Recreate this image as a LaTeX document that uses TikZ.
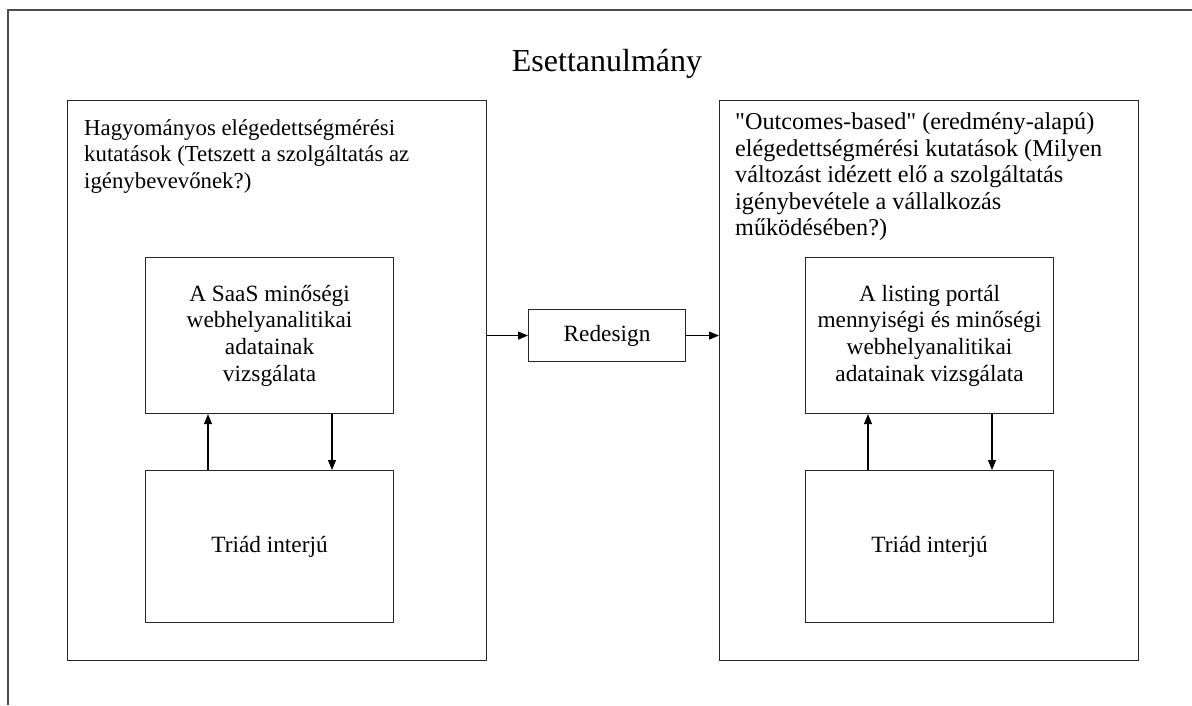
\documentclass[tikz,border=0pt]{standalone}
\usepackage{fontspec}
\setmainfont{Liberation Serif}[Ligatures=TeXOff]
\usetikzlibrary{arrows.meta}
\begin{document}
\begin{tikzpicture}[x=1pt,y=-1pt,
  box/.style={draw=black!85, line width=1.1pt, rectangle, inner sep=0pt},
  frame/.style={draw=black!70, line width=1.5pt},
  txt/.style={font=\fontsize{23.3}{26.7}\selectfont, align=center, inner sep=0pt},
  ltxt/.style={align=left, inner sep=0pt, anchor=north west},
  arr/.style={draw=black, line width=1.1pt, -{Triangle[length=10pt,width=8pt]}}
]
\useasboundingbox (0,0) rectangle (1192,705);
% outer container (cut off)
\coordinate (ftr) at (1192,10);
\coordinate (ftl) at (8,10);
\coordinate (fbl) at (8,705);
\draw[frame] (ftr) -- (ftl) -- (fbl);
\node[font=\fontsize{32}{36}\selectfont, inner sep=0pt] (title) at (607,64) {Esettanulmány};

% left big box
\node[box, minimum width=419pt, minimum height=560pt, anchor=north west] (L) at (67,100) {};
\node[ltxt, font=\fontsize{22.8}{26.6}\selectfont] (Lt) at (84,119) {Hagyományos elégedettségmérési\\kutatások (Tetszett a szolgáltatás az\\igénybevevőnek?)};
\node[box, minimum width=248pt, minimum height=156pt, anchor=north west] (L1) at (145,257) {};
\node[txt] (L1t) at (L1.center) {A SaaS minőségi\\webhelyanalitikai\\adatainak\\vizsgálata};
\node[box, minimum width=248pt, minimum height=152pt, anchor=north west] (L2) at (145,470) {};
\node[txt] (L2t) at (L2.center) {Triád interjú};

% right big box
\node[box, minimum width=419pt, minimum height=560pt, anchor=north west] (R) at (719,100) {};
\node[ltxt, font=\fontsize{24.2}{26.6}\selectfont] (Rt) at (735,112.5) {"Outcomes-based" (eredmény-alapú)\\elégedettségmérési kutatások (Milyen\\változást idézett elő a szolgáltatás\\igénybevétele a vállalkozás\\működésében?)};
\node[box, minimum width=248pt, minimum height=156pt, anchor=north west] (R1) at (805,257) {};
\node[txt] (R1t) at (R1.center) {A listing portál\\mennyiségi és minőségi\\webhelyanalitikai\\adatainak vizsgálata};
\node[box, minimum width=248pt, minimum height=152pt, anchor=north west] (R2) at (805,470) {};
\node[txt] (R2t) at (R2.center) {Triád interjú};

% redesign
\node[box, minimum width=157pt, minimum height=52pt, anchor=north west] (RD) at (528,309) {};
\node[txt] (RDt) at (RD.center) {Redesign};

% arrows
\draw[arr] (L.east |- RD.west) -- (RD.west);
\draw[arr] (RD.east) -- (R.west |- RD.east);
\draw[arr] (L2.north -| 208,0) -- (L1.south -| 208,0);
\draw[arr] (L1.south -| 332,0) -- (L2.north -| 332,0);
\draw[arr] (R2.north -| 868,0) -- (R1.south -| 868,0);
\draw[arr] (R1.south -| 992,0) -- (R2.north -| 992,0);
\end{tikzpicture}
\end{document}
